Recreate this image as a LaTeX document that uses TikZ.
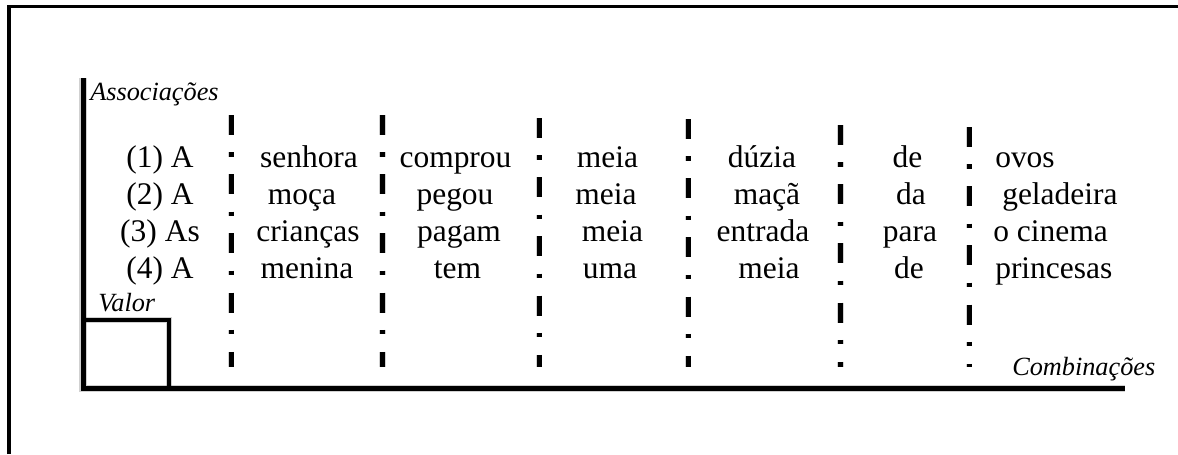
\documentclass[tikz,border=0pt]{standalone}
\usepackage{fontspec}
\setmainfont{Liberation Serif}
\begin{document}
\begin{tikzpicture}[x=0.75pt,y=-0.75pt,
  word/.style={anchor=base,inner sep=0pt,font=\fontsize{23.6}{28}\selectfont},
  wordw/.style={word,anchor=base west},
  axislabel/.style={anchor=base west,inner sep=0pt,font=\fontsize{19.7}{24}\selectfont\itshape},
  frameline/.style={line width=2.4pt},
  axisline/.style={line width=3.75pt,line join=miter},
  boxline/.style={line width=3.4pt,line join=miter},
  sepline/.style={line width=3.75pt,dash pattern=on 15pt off 13pt on 3.4pt off 13pt},
  shade/.style={draw=black,opacity=0.18,shift={(1.5,2.5)}}]
\useasboundingbox (0,0) rectangle (1178,454);

% outer frame: left and top edges
\coordinate (ftl) at (9,6.7);
\coordinate (fbl) at (9,454);
\coordinate (ftr) at (1178,6.7);
\draw[frameline,line join=miter] (fbl) -- (ftl) -- (ftr);

% axes and the value box
\coordinate (ytop) at (83,78);
\coordinate (origin) at (83,388.5);
\coordinate (xend) at (1125,388.5);
\coordinate (boxtl) at (83,320);
\coordinate (boxbr) at (169,388.5);
\draw[axisline,shade,line width=5.5pt] (ytop) |- (xend);
\draw[boxline,shade,line width=5pt] (boxtl) -| (boxbr);
\draw[axisline] (ytop) |- (xend);
\draw[boxline] (boxtl) -| (boxbr);

% dash-dot column separators
\foreach \n/\x/\t in {1/231/115, 2/382.5/115, 3/539/118, 4/688/119, 5/840.5/125, 6/969/127}{
  \coordinate (s\n t) at (\x,\t);
  \coordinate (s\n b) at (\x,367);
  \draw[sepline,shade,line width=5pt] (s\n t) -- (s\n b);
  \draw[sepline] (s\n t) -- (s\n b);
}

% axis labels
\node[axislabel] (lassoc) at (90,100) {Associações};
\node[axislabel] (lvalor) at (98,311) {Valor};
\node[axislabel] (lcomb) at (1012,375) {Combinações};

% sentences, one column per constituent
\node[word] (a1) at (160,167) {(1) A};
\node[word] (a2) at (160,204) {(2) A};
\node[word] (a3) at (160,241) {(3) As};
\node[word] (a4) at (160,278) {(4) A};

\node[word] (b1) at (309,167) {senhora};
\node[word] (b2) at (302,204) {moça};
\node[word] (b3) at (308,241) {crianças};
\node[word] (b4) at (307,278) {menina};

\node[word] (c1) at (455.5,167) {comprou};
\node[word] (c2) at (455,204) {pegou};
\node[word] (c3) at (459,241) {pagam};
\node[word] (c4) at (457.5,278) {tem};

\node[word] (d1) at (607.5,167) {meia};
\node[word] (d2) at (606,204) {meia};
\node[word] (d3) at (612.5,241) {meia};
\node[word] (d4) at (610,278) {uma};

\node[word] (e1) at (762,167) {dúzia};
\node[word] (e2) at (767,204) {maçã};
\node[word] (e3) at (763,241) {entrada};
\node[word] (e4) at (769,278) {meia};

\node[word] (f1) at (907.5,167) {de};
\node[word] (f2) at (911,204) {da};
\node[word] (f3) at (910,241) {para};
\node[word] (f4) at (909,278) {de};

\node[wordw] (g1) at (995,167) {ovos};
\node[wordw] (g2) at (1002,204) {geladeira};
\node[wordw] (g3) at (993,241) {o cinema};
\node[wordw] (g4) at (995,278) {princesas};
\end{tikzpicture}
\end{document}
